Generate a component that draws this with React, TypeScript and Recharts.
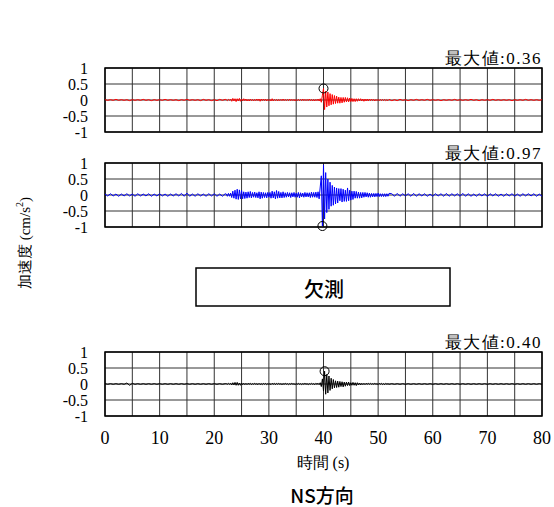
import React from 'react';
import { LineChart, Line, XAxis, YAxis, CartesianGrid, ReferenceDot, ReferenceArea } from 'recharts';

// ---- axes ----
const X_TICKS = [0, 5, 10, 15, 20, 25, 30, 35, 40, 45, 50, 55, 60, 65, 70, 75, 80];
const Y_TICKS = [-1, -0.5, 0, 0.5, 1];

// ---- sampling grid of the traces (s) ----
const SEG1 = { start: 0, step: 0.5 };
const SEG2 = { start: 22.2, step: 0.2 };
const SEG3 = { start: 52.5, step: 0.5 };

// ---- red trace (top) ----
const redQuietA = [
  0.01, -0.01, 0.01, -0.01, 0.02, -0.01, 0.01, -0.01, 0.01, -0.02,
  0.01, -0.01, 0.01, -0.01, 0.02, -0.01, 0.01, -0.02, 0.01, -0.01,
  0.01, -0.01, 0.02, -0.01, 0.01, -0.01, 0.01, -0.02, 0.01, -0.01,
  0.02, -0.01, 0.01, -0.01, 0.01, -0.02, 0.02, -0.01, 0.01, -0.02,
  0.01, -0.02, 0.02, -0.01, 0.02,
];
const redBurst = [
  0.01, -0.02, 0.02, -0.01, 0.03,
  -0.04, 0.05, -0.03, 0.04, -0.05,
  0.04, -0.03, 0.05, -0.04, 0.03,
  -0.03, 0.04, -0.02, 0.03, -0.03,
  0.02, -0.03, 0.03, -0.02, 0.02,
  -0.03, 0.02, -0.02, 0.03, -0.02,
  0.03, -0.04, 0.03, -0.02, 0.03,
  -0.02, 0.03, -0.03, 0.02, -0.02,
  0.02, -0.03, 0.04, -0.03, 0.02,
  -0.02, 0.02, -0.03, 0.02, -0.02,
  0.02, -0.02, 0.03, -0.02, 0.02,
  -0.02, 0.02, -0.02, 0.03, -0.02,
  0.02, -0.02, 0.02, -0.03, 0.02,
  -0.02, 0.02, -0.02, 0.02, -0.02,
  0.03, -0.02, 0.02, -0.02, 0.02,
  -0.02, 0.03, -0.02, 0.02, -0.03,
  0.02, -0.03, 0.02, -0.02, 0.03,
  -0.03, 0.04, -0.07, 0.15, 0.36,
  -0.3, 0.28, -0.22, 0.25, -0.18,
  0.2, -0.15, 0.17, -0.13, 0.14,
  -0.11, 0.12, -0.1, 0.09, -0.1,
  0.08, -0.09, 0.08, -0.07, 0.08,
  -0.06, 0.07, -0.06, 0.06, -0.05,
  0.05, -0.05, 0.04, -0.05, 0.04,
  -0.04, 0.04, -0.03, 0.04, -0.03,
  0.03, -0.04, 0.03, -0.03, 0.03,
  -0.03, 0.03, -0.02, 0.03, -0.02,
  0.02, -0.03, 0.02, -0.02, 0.02,
  -0.02, 0.02, -0.02, 0.02, -0.02,
  0.02, -0.02, 0.01, -0.02, 0.02,
];
const redQuietB = [
  -0.02, 0.01, -0.02, 0.02, -0.01, 0.01, -0.02, 0.01, -0.01, 0.02,
  -0.01, 0.01, -0.01, 0.02, -0.01, 0.01, -0.01, 0.01, -0.02, 0.01,
  -0.01, 0.01, -0.01, 0.02, -0.01, 0.01, -0.01, 0.01, -0.01, 0.02,
  -0.01, 0.01, -0.02, 0.01, -0.01, 0.01, -0.01, 0.02, -0.01, 0.01,
  -0.01, 0.01, -0.01, 0.01, -0.02, 0.01, -0.01, 0.01, -0.01, 0.02,
  -0.01, 0.01, -0.01, 0.01, -0.01, 0.01,
];

// ---- blue trace (middle) ----
const blueQuietA = [
  0.03, -0.03, 0.04, -0.03, 0.03, -0.04, 0.03, -0.03, 0.04, -0.03,
  0.03, -0.04, 0.04, -0.03, 0.03, -0.03, 0.04, -0.04, 0.03, -0.03,
  0.04, -0.03, 0.03, -0.04, 0.03, -0.03, 0.04, -0.03, 0.05, -0.04,
  0.06, -0.04, 0.03, -0.04, 0.04, -0.03, 0.03, -0.04, 0.04, -0.03,
  0.04, -0.04, 0.03, -0.04, 0.04,
];
const blueBurst = [
  0.03, -0.04, 0.05, -0.04, 0.06,
  -0.08, 0.12, -0.1, 0.15, -0.13,
  0.18, -0.14, 0.16, -0.12, 0.14,
  -0.12, 0.1, -0.11, 0.09, -0.1,
  0.1, -0.08, 0.11, -0.09, 0.08,
  -0.07, 0.09, -0.08, 0.07, -0.09,
  0.1, -0.12, 0.09, -0.1, 0.08,
  -0.08, 0.07, -0.09, 0.08, -0.07,
  0.08, -0.1, 0.12, -0.09, 0.1,
  -0.12, 0.14, -0.1, 0.11, -0.09,
  0.08, -0.09, 0.1, -0.08, 0.07,
  -0.07, 0.08, -0.06, 0.07, -0.08,
  0.07, -0.06, 0.08, -0.07, 0.06,
  -0.07, 0.08, -0.09, 0.07, -0.06,
  0.06, -0.07, 0.08, -0.06, 0.07,
  -0.06, 0.07, -0.08, 0.09, -0.07,
  0.08, -0.07, 0.09, -0.08, 0.1,
  -0.12, 0.25, 0.6, -0.97, 0.94,
  -0.75, 0.7, -0.55, 0.5, -0.45,
  0.4, -0.35, 0.3, -0.32, 0.25,
  -0.28, 0.22, -0.25, 0.2, -0.18,
  0.2, -0.22, 0.18, -0.2, 0.15,
  -0.2, 0.22, -0.18, 0.15, -0.16,
  0.12, -0.14, 0.12, -0.1, 0.11,
  -0.1, 0.09, -0.1, 0.08, -0.09,
  0.08, -0.07, 0.08, -0.06, 0.07,
  -0.07, 0.06, -0.07, 0.05, -0.06,
  0.05, -0.06, 0.05, -0.05, 0.06,
  -0.05, 0.04, -0.05, 0.04, -0.05,
  0.04, -0.05, 0.04, -0.04, 0.05,
];
const blueQuietB = [
  0.04, -0.04, 0.05, -0.04, 0.04, -0.03, 0.04, -0.04, 0.05, -0.04,
  0.04, -0.03, 0.04, -0.04, 0.03, -0.04, 0.04, -0.03, 0.04, -0.04,
  0.05, -0.04, 0.04, -0.03, 0.04, -0.04, 0.05, -0.04, 0.04, -0.04,
  0.03, -0.04, 0.04, -0.03, 0.04, -0.05, 0.04, -0.03, 0.04, -0.04,
  0.03, -0.04, 0.04, -0.03, 0.04, -0.04, 0.03, -0.04, 0.04, -0.03,
  0.04, -0.03, 0.04, -0.04, 0.03, -0.04,
];

// ---- black trace (bottom) ----
const blackQuietA = [
  0.01, -0.01, 0.01, -0.01, 0.01, -0.01, 0.01, -0.01, 0.03, -0.04,
  0.02, -0.01, 0.01, -0.01, 0.01, -0.01, 0.01, -0.01, 0.01, -0.01,
  0.01, -0.01, 0.01, -0.01, 0.01, -0.01, 0.01, -0.01, 0.01, -0.01,
  0.01, -0.01, 0.01, -0.01, 0.01, -0.01, 0.01, -0.01, 0.01, -0.01,
  0.01, -0.01, 0.01, -0.01, 0.01,
];
const blackBurst = [
  0.01, -0.01, 0.02, -0.01, 0.02,
  -0.03, 0.04, -0.03, 0.05, -0.04,
  0.05, -0.04, 0.03, -0.04, 0.03,
  -0.02, 0.02, -0.02, 0.02, -0.02,
  0.02, -0.01, 0.02, -0.02, 0.01,
  -0.01, 0.02, -0.01, 0.01, -0.02,
  0.02, -0.02, 0.01, -0.02, 0.02,
  -0.01, 0.02, -0.02, 0.01, -0.01,
  0.01, -0.02, 0.02, -0.01, 0.02,
  -0.02, 0.02, -0.01, 0.02, -0.01,
  0.01, -0.02, 0.01, -0.01, 0.02,
  -0.01, 0.01, -0.02, 0.01, -0.01,
  0.02, -0.01, 0.01, -0.02, 0.01,
  -0.01, 0.02, -0.01, 0.01, -0.02,
  0.01, -0.01, 0.02, -0.01, 0.01,
  -0.02, 0.01, -0.01, 0.02, -0.01,
  0.01, -0.02, 0.02, -0.01, 0.02,
  -0.02, 0.04, -0.08, 0.16, -0.22,
  0.4, -0.32, 0.3, -0.28, 0.25,
  -0.2, 0.18, -0.15, 0.14, -0.12,
  0.1, -0.11, 0.09, -0.1, 0.08,
  -0.08, 0.07, -0.09, 0.06, -0.07,
  0.06, -0.05, 0.06, -0.05, 0.04,
  -0.04, 0.05, -0.04, 0.04, -0.05,
  0.04, -0.03, 0.03, -0.03, 0.02,
  -0.02, 0.02, -0.02, 0.02, -0.01,
  0.02, -0.01, 0.02, -0.01, 0.01,
  -0.01, 0.02, -0.01, 0.01, -0.02,
  0.02, -0.01, 0.02, -0.02, 0.01,
  -0.02, 0.02, -0.01, 0.01, -0.01,
];
const blackQuietB = [
  0.01, -0.01, 0.01, -0.01, 0.01, -0.01, 0.01, -0.01, 0.01, -0.01,
  0.01, -0.01, 0.01, -0.01, 0.01, -0.01, 0.01, -0.01, 0.01, -0.01,
  0.01, -0.01, 0.01, -0.01, 0.01, -0.01, 0.01, -0.01, 0.01, -0.01,
  0.01, -0.01, 0.01, -0.01, 0.01, -0.01, 0.01, -0.01, 0.01, -0.01,
  0.01, -0.01, 0.01, -0.01, 0.01, -0.01, 0.01, -0.01, 0.01, -0.01,
  0.01, -0.01, 0.01, -0.01, 0.01, -0.01,
];

type Row = { t: number; v: number };

function buildRows(a: number[], b: number[], c: number[]): Row[] {
  const rows: Row[] = [];
  a.forEach((v, i) => rows.push({ t: +(SEG1.start + i * SEG1.step).toFixed(2), v }));
  b.forEach((v, i) => rows.push({ t: +(SEG2.start + i * SEG2.step).toFixed(2), v }));
  c.forEach((v, i) => rows.push({ t: +(SEG3.start + i * SEG3.step).toFixed(2), v }));
  return rows;
}

function peakOf(rows: Row[]): Row {
  return rows.reduce((best, r) => (Math.abs(r.v) > Math.abs(best.v) ? r : best), rows[0]);
}

const SERIF = "Liberation Serif, DejaVu Serif, serif";
const SANS = "Noto Sans CJK JP, Noto Sans, sans-serif";

type PanelProps = { rows: Row[]; color: string; top: number; showX: boolean };

function Panel({ rows, color, top, showX }: PanelProps) {
  const peak = peakOf(rows);
  const xh = showX ? 35 : 0;
  const bottom = showX ? 0 : 12;
  const height = 20 + 64 + xh + bottom;
  return (
    <div style={{ position: 'absolute', left: 0, top, width: 554, height }}>
      <LineChart
        width={554}
        height={height}
        data={rows}
        margin={{ top: 20, right: 12, bottom, left: 65 }}
      >
        <CartesianGrid stroke="#333" strokeWidth={1} />
        <XAxis
          dataKey="t"
          type="number"
          domain={[0, 80]}
          ticks={X_TICKS}
          interval={0}
          height={xh}
          axisLine={false}
          tickLine={false}
          tickSize={0}
          tickMargin={15}
          tick={{ fill: '#000', fontSize: 18, fontFamily: SERIF }}
          tickFormatter={(v: number) => (showX && v % 10 === 0 ? String(v) : '')}
        />
        <YAxis
          type="number"
          domain={[-1, 1]}
          ticks={Y_TICKS}
          interval={0}
          width={40}
          axisLine={false}
          tickLine={false}
          tickSize={0}
          tickMargin={17}
          tick={{ fill: '#000', fontSize: 16, fontFamily: SERIF }}
          tickFormatter={(v: number) => String(v)}
        />
        <Line
          type="linear"
          dataKey="v"
          stroke={color}
          strokeWidth={1}
          dot={false}
          isAnimationActive={false}
        />
        <ReferenceArea x1={0} x2={80} y1={-1} y2={1} fill="none" fillOpacity={0} stroke="#000" strokeWidth={1.5} ifOverflow="visible" />
        <ReferenceDot x={peak.t} y={peak.v} r={4.5} fill="none" stroke="#000" strokeWidth={1} ifOverflow="visible" />
      </LineChart>
    </div>
  );
}

const redRows = buildRows(redQuietA, redBurst, redQuietB);
const blueRows = buildRows(blueQuietA, blueBurst, blueQuietB);
const blackRows = buildRows(blackQuietA, blackBurst, blackQuietB);

const PANEL_TOPS = [48, 143, 332];
const LABEL_YS = [58, 153, 342];

export default function App() {
  const panels = [
    { rows: redRows, color: '#ff0000' },
    { rows: blueRows, color: '#0000ff' },
    { rows: blackRows, color: '#000000' },
  ];
  return (
    <div style={{ position: 'absolute', left: 0, top: 0, width: 554, height: 507, background: '#fff' }}>
      {panels.map((p, i) => (
        <Panel key={i} rows={p.rows} color={p.color} top={PANEL_TOPS[i]} showX={i === 2} />
      ))}
      <svg width={554} height={507} style={{ position: 'absolute', left: 0, top: 0, pointerEvents: 'none' }}>
        {panels.map((p, i) => (
          <text key={i} x={542} y={LABEL_YS[i]} textAnchor="end" dominantBaseline="central" fontSize={17} letterSpacing={1.5} fontFamily={SERIF} fill="#000">
            {'最大値:' + Math.abs(peakOf(p.rows).v).toFixed(2)}
          </text>
        ))}
        <text x={25} y={243} transform="rotate(-90 25 243)" textAnchor="middle" dominantBaseline="central" fontSize={15} fontFamily={SERIF} fill="#000">
          加速度 (cm/s<tspan fontSize={10} dy={-6}>2</tspan><tspan dy={6}>)</tspan>
        </text>
        <text x={323} y={462} textAnchor="middle" dominantBaseline="central" fontSize={16} fontFamily={SERIF} fill="#000">
          時間 (s)
        </text>
        <rect x={196} y={268} width={254} height={38} fill="#fff" stroke="#000" strokeWidth={1.5} />
        <text x={324} y={288} textAnchor="middle" dominantBaseline="central" fontSize={20} fontWeight={500} fontFamily={SANS} fill="#000">
          欠測
        </text>
        <text x={322} y={494} textAnchor="middle" dominantBaseline="central" fontSize={19} fontWeight={500} fontFamily={SANS} fill="#000">
          NS方向
        </text>
      </svg>
    </div>
  );
}
